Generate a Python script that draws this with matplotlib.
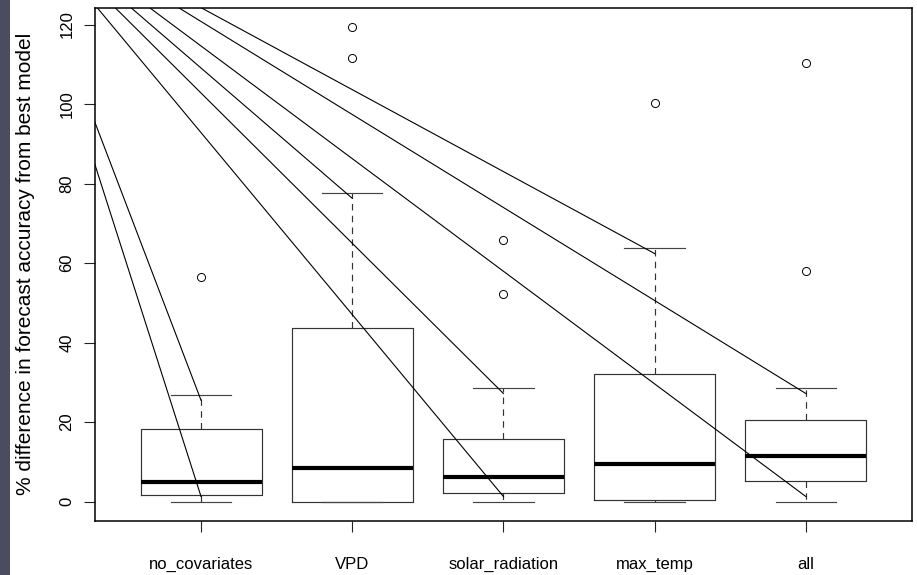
import numpy as np
import matplotlib
matplotlib.use('Agg')
import matplotlib.pyplot as plt
from matplotlib.patches import Rectangle

plt.rcParams['font.family'] = ['Liberation Sans', 'DejaVu Sans']

# summary stats per covariate set (% difference from best model)
groups   = ['no_covariates', 'VPD', 'solar_radiation', 'max_temp', 'all']
whis_lo  = [0.0, 0.0, 0.0, 0.0, 0.0]
q1       = [1.7, 0.0, 2.1, 0.4, 5.2]
medians  = [4.9, 8.4, 6.1, 9.5, 11.5]
q3       = [18.3, 43.7, 15.8, 32.2, 20.5]
whis_hi  = [26.8, 77.6, 28.5, 63.7, 28.5]
outliers = [[56.6], [119.5, 111.7], [52.2, 65.7], [100.2], [110.4, 57.9]]

# stray segments that run into the whisker ends from off-panel
stray_origin = (-0.25, 150.0)
dash_gap = 1.3

stats = []
for i, g in enumerate(groups):
    stats.append(dict(label=g, whislo=whis_lo[i], q1=q1[i], med=medians[i],
                      q3=q3[i], whishi=whis_hi[i], fliers=outliers[i]))

fig = plt.figure(figsize=(9.17, 5.75), dpi=100)
ax = fig.add_axes([95.2 / 917, 1 - 520.7 / 575, (911.7 - 95.2) / 917, (520.7 - 7.5) / 575])

pos = np.arange(1, len(groups) + 1)
ax.bxp(stats, positions=pos, widths=0.8, capwidths=0.4, patch_artist=False,
       boxprops=dict(color='#333333', linewidth=0.85),
       medianprops=dict(color='black', linewidth=3.0, solid_capstyle='butt'),
       whiskerprops=dict(color='#333333', linewidth=0.85, linestyle=(0, (5.5, 4.5))),
       capprops=dict(color='#444444', linewidth=0.85),
       flierprops=dict(marker='o', markersize=5.8, markerfacecolor='none',
                       markeredgecolor='black', markeredgewidth=0.7))

# stray lines, ending where the dashed whiskers stop
ox, oy = stray_origin
for i in range(len(groups)):
    for end, hinge in ((whis_hi[i], q3[i]), (whis_lo[i], q1[i])):
        if abs(end - hinge) <= dash_gap:
            continue
        y_end = end - np.sign(end - hinge) * dash_gap
        ax.plot([ox, pos[i]], [oy, y_end], color='black', linewidth=0.8)

all_vals = whis_lo + whis_hi + [v for o in outliers for v in o]
lo, hi = min(all_vals), max(all_vals)
pad = 0.04 * (hi - lo)
ax.set_ylim(lo - pad, hi + pad)
ax.set_xlim(0.5 - 0.04 * 5, 5.5 + 0.04 * 5)

ax.set_yticks([0, 20, 40, 60, 80, 100, 120])
ax.set_yticklabels(['0', '20', '40', '60', '80', '100', '120'], rotation=90, va='center')
ax.set_xticks(pos)
ax.set_xticklabels(groups)
ax.tick_params(axis='both', labelsize=12, length=7.9, width=0.8, color='#222222')
ax.tick_params(axis='y', pad=7)
ax.tick_params(axis='x', pad=18)

for s in ax.spines.values():
    s.set_linewidth(1.1)
    s.set_color('black')

ax.set_ylabel('% difference in forecast accuracy from best model', fontsize=15)
ax.yaxis.set_label_coords(-0.0735, 0.5)

# dark window edge on the far left
fig.patches.append(Rectangle((0, 0), 10 / 917, 1, transform=fig.transFigure,
                             facecolor='#4a4d5f', edgecolor='none', zorder=0))

fig.savefig('out.png', dpi=100, facecolor='white')
